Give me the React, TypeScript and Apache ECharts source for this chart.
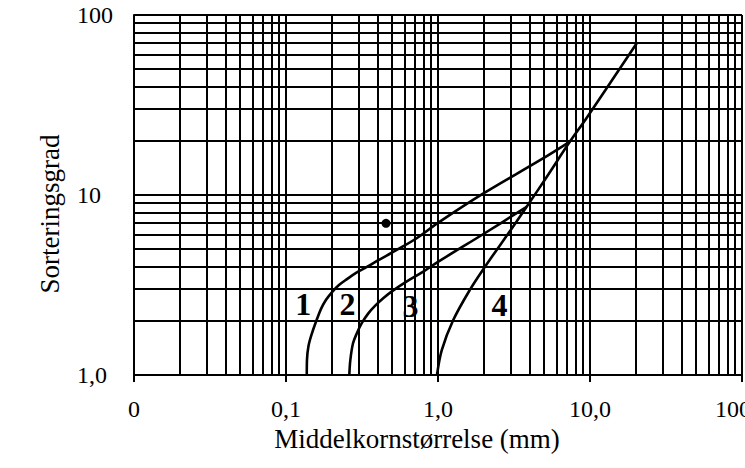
import React, { useEffect, useRef } from "react";
import * as echarts from "echarts";

// Axis ticks and labels
const xTickValues = [0.01, 0.1, 1, 10, 100];
const xTickLabels = ["0", "0,1", "1,0", "10,0", "100,0"];
const yTickValues = [1, 10, 100];
const yTickLabels = ["1,0", "10", "100"];

// Grid decades & multipliers (log-paper rulings)
const xDecades = [0.01, 0.1, 1, 10];
const yDecades = [1, 10];
const multipliers = [1, 2, 3, 4, 5, 6, 7, 8, 9];

// Curves [middle grain size (mm), sorting]
const curve1: [number, number][] = [
  [0.137, 1.0], [0.1374, 1.21], [0.1406, 1.45], [0.148, 1.7], [0.159, 2.02],
  [0.17, 2.33], [0.183, 2.61], [0.201, 2.89], [0.223, 3.16], [0.252, 3.41],
  [0.289, 3.69], [0.336, 3.96], [0.397, 4.3], [0.535, 4.95], [0.724, 5.75],
  [1.0, 7.0], [1.99, 10.2], [4.69, 15.6], [7.38, 19.8],
];
const curve2: [number, number][] = [
  [0.261, 1.0], [0.265, 1.21], [0.276, 1.5], [0.292, 1.7], [0.315, 1.94],
  [0.348, 2.2], [0.385, 2.42], [0.436, 2.67], [0.508, 2.95], [0.62, 3.3],
  [0.8, 3.75], [1.0, 4.25], [2.04, 6.15], [3.83, 8.6],
];
const curve4: [number, number][] = [
  [0.985, 1.0], [1.06, 1.38], [1.26, 2.02], [1.62, 2.97], [2.04, 4.0],
  [3.05, 6.5], [3.83, 8.6], [5.19, 12.6], [7.38, 19.8], [9.5, 26.8],
  [20.3, 69.6],
];
const dotPoint: [number, number][] = [[0.455, 6.96]];

// Curve labels
const curveLabelNames = ["1", "2", "3", "4"];
const curveLabelPos: [number, number][] = [
  [0.13, 2.48], [0.254, 2.48], [0.659, 2.42], [2.54, 2.45],
];

const FONT = "Liberation Serif";

export default function App() {
  const ref = useRef<HTMLDivElement>(null);
  useEffect(() => {
    if (!ref.current) return;
    const chart = echarts.init(ref.current, undefined, { renderer: "svg" });

    const xGrid: number[] = [];
    xDecades.forEach((d) => multipliers.forEach((m) => xGrid.push(d * m)));
    xGrid.push(100);
    const yGrid: number[] = [];
    yDecades.forEach((d) => multipliers.forEach((m) => yGrid.push(d * m)));
    yGrid.push(100);

    const fmt = (vals: number[], labels: string[]) => (v: number) => {
      const e = Math.round(Math.log10(v));
      const i = vals.findIndex((t) => Math.round(Math.log10(t)) === e);
      return i >= 0 ? labels[i] : "";
    };

    const gridLine = { color: "#000", width: 2, type: "solid" as const };
    const curveStyle = { color: "#000", width: 2.6 };

    chart.setOption({
      animation: false,
      backgroundColor: "#fff",
      grid: { left: 134, top: 15, right: 3, bottom: 93, outerBoundsMode: "none", containLabel: false },
      xAxis: {
        type: "log",
        logBase: 10,
        min: 0.01,
        max: 100,
        name: "Middelkornstørrelse (mm)",
        nameLocation: "middle",
        nameGap: 48,
        nameTextStyle: { fontFamily: FONT, fontSize: 27, color: "#000", padding: [0, 42, 0, 0] },
        axisLine: { show: true, lineStyle: { color: "#000", width: 2 } },
        axisTick: { show: true, length: 7, lineStyle: { color: "#000", width: 2 } },
        splitLine: { show: false },
        axisLabel: {
          formatter: fmt(xTickValues, xTickLabels),
          fontFamily: FONT,
          fontSize: 24,
          color: "#000",
          margin: 22,
          showMinLabel: true,
          showMaxLabel: true,
        },
      },
      yAxis: {
        type: "log",
        logBase: 10,
        min: 1,
        max: 100,
        name: "Sorteringsgrad",
        nameLocation: "middle",
        nameGap: 71,
        nameTextStyle: { fontFamily: FONT, fontSize: 27, color: "#000", padding: [0, 38, 0, 0] },
        axisLine: { show: true, lineStyle: { color: "#000", width: 2 } },
        axisTick: { show: false },
        splitLine: { show: false },
        axisLabel: {
          formatter: fmt(yTickValues, yTickLabels),
          fontFamily: FONT,
          fontSize: 24,
          color: "#000",
          align: "left",
          margin: 57,
          showMinLabel: true,
          showMaxLabel: true,
        },
      },
      series: [
        {
          name: "grid",
          type: "line",
          data: [],
          silent: true,
          markLine: {
            silent: true,
            symbol: ["none", "none"],
            label: { show: false },
            lineStyle: gridLine,
            data: [
              ...xGrid.map((v) => ({ xAxis: v })),
              ...yGrid.map((v) => ({ yAxis: v })),
            ],
          },
        },
        {
          name: "1",
          type: "line",
          data: curve1,
          showSymbol: false,
          smooth: 0.35,
          lineStyle: curveStyle,
          itemStyle: { color: "#000" },
        },
        {
          name: "2",
          type: "line",
          data: curve2,
          showSymbol: false,
          smooth: 0.35,
          lineStyle: curveStyle,
          itemStyle: { color: "#000" },
        },
        {
          name: "4",
          type: "line",
          data: curve4,
          showSymbol: false,
          smooth: 0.35,
          lineStyle: curveStyle,
          itemStyle: { color: "#000" },
        },
        {
          name: "dot",
          type: "scatter",
          data: dotPoint,
          symbolSize: 9,
          itemStyle: { color: "#000", opacity: 1 },
        },
      ],
    });

    // Curve number labels placed through the chart's own coordinate conversion
    const texts = curveLabelNames.map((n, i) => {
      const p = chart.convertToPixel({ gridIndex: 0 }, curveLabelPos[i]) as number[];
      return {
        type: "text",
        x: p[0],
        y: p[1],
        z: 100,
        style: {
          text: n,
          fill: "#000",
          font: `bold 32px "${FONT}"`,
          align: "center",
          verticalAlign: "middle",
        },
      };
    });
    chart.setOption({ graphic: texts });

    return () => chart.dispose();
  }, []);
  return (
    <div
      ref={ref}
      style={{ position: "fixed", left: 0, top: 0, width: 745, height: 468, background: "#fff" }}
    />
  );
}
